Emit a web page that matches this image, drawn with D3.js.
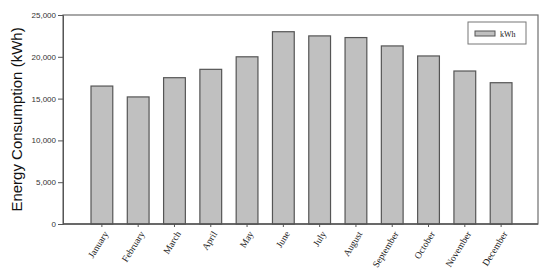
<!DOCTYPE html>
<html><head><meta charset="utf-8">
<script src="https://cdn.jsdelivr.net/npm/d3@7"></script>
<style>body{margin:0;background:#fff}svg{display:block}</style>
</head><body>
<script>
const months = ["January","February","March","April","May","June","July","August","September","October","November","December"];
const kwh = [16500,15200,17500,18500,20000,23000,22500,22300,21300,20100,18300,16900];
const yTicks = [0,5000,10000,15000,20000,25000];
const seriesName = "kWh";

const W=550,H=276;
const L=63,R=538,T=15,B=224;
const svg=d3.select("body").append("svg").attr("width",W).attr("height",H);

const x=d3.scaleBand().domain(months).range([91,512]).paddingInner(0.4).paddingOuter(0);
const y=d3.scaleLinear().domain([0,25000]).range([B,T]);

// frame
svg.append("rect").attr("x",L).attr("y",T).attr("width",R-L).attr("height",B-T)
  .attr("fill","none").attr("stroke","#6e6e6e").attr("stroke-width",1.2);

// bars
svg.append("g").selectAll("rect").data(kwh).join("rect")
  .attr("x",(d,i)=>x(months[i])).attr("width",x.bandwidth())
  .attr("y",d=>y(d)).attr("height",d=>y(0)-y(d))
  .attr("fill","#c0c0c0").attr("stroke","#555").attr("stroke-width",1.2);

// y axis
const ya=svg.append("g").attr("transform",`translate(${L},0)`)
  .call(d3.axisLeft(y).tickValues(yTicks).tickFormat(d3.format(",")).tickSize(5).tickPadding(2));
ya.select(".domain").attr("stroke","#555");
ya.selectAll(".tick line").attr("stroke","#555");
ya.selectAll("text").attr("font-family","Arial, 'Liberation Sans', sans-serif").attr("font-size","8px").attr("fill","#333");

// x axis
const xa=svg.append("g").attr("transform",`translate(0,${B})`)
  .call(d3.axisBottom(x).tickSize(3).tickSizeOuter(0));
xa.select(".domain").attr("stroke","#555").attr("stroke-width",1.5).attr("d",`M${L},0H${R}`);
xa.selectAll(".tick line").attr("stroke","#555");
xa.selectAll("text").attr("font-family","'Liberation Serif','Times New Roman',serif").attr("font-size","9.5px").attr("fill","#222")
  .attr("text-anchor","end").attr("dy","0.35em")
  .attr("transform","translate(4,8) rotate(-58)").attr("x",0).attr("y",0);

// y title
svg.append("text").attr("transform",`translate(22,${(T+B)/2}) rotate(-90)`)
  .attr("text-anchor","middle").attr("font-family","Arial, 'Liberation Sans', sans-serif")
  .attr("font-size","15px").attr("fill","#111").text("Energy Consumption (kWh)");

// legend
const lg=svg.append("g");
lg.append("rect").attr("x",468).attr("y",22).attr("width",58).attr("height",22)
  .attr("fill","#fff").attr("stroke","#777").attr("stroke-width",1);
lg.append("rect").attr("x",475).attr("y",31).attr("width",20).attr("height",5)
  .attr("fill","#c0c0c0").attr("stroke","#555").attr("stroke-width",1);
lg.append("text").attr("x",500).attr("y",36.5).attr("font-family","'Liberation Serif','Times New Roman',serif")
  .attr("font-size","8px").attr("fill","#222").text(seriesName);
</script>
</body></html>
